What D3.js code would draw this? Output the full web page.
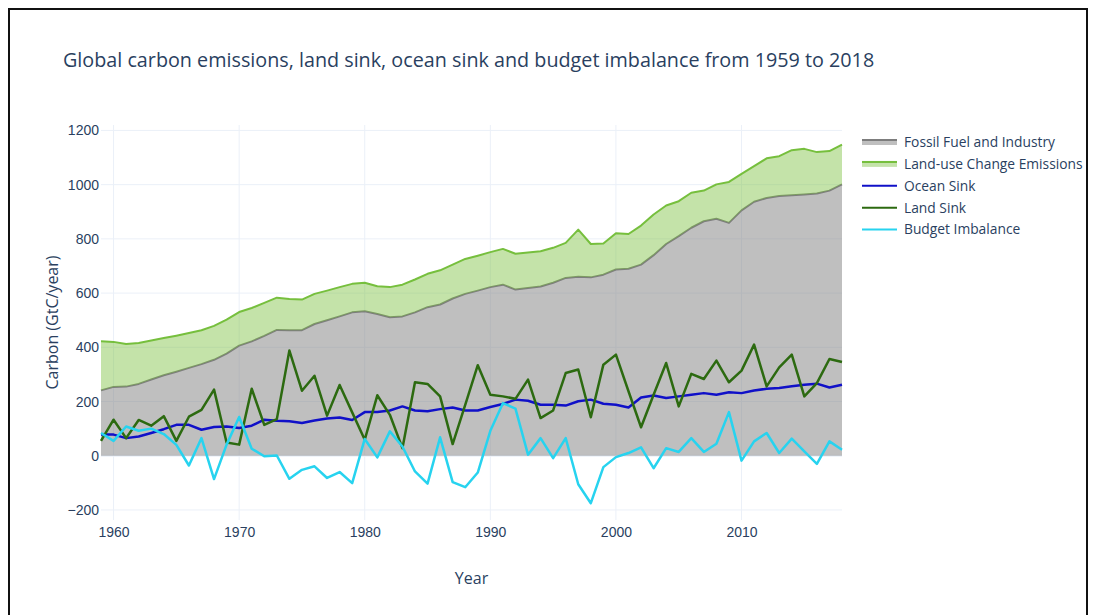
<!DOCTYPE html>
<html>
<head>
<meta charset="utf-8">
<script src="https://cdn.jsdelivr.net/npm/d3@7"></script>
<style>
  body { margin: 0; background: #fff; }
  svg { display: block; font-family: "Open Sans", verdana, arial, sans-serif; }
</style>
</head>
<body>
<svg id="chart" width="1096" height="615"></svg>
<script>

const years = d3.range(1959, 2019)

const fossil = [241, 254, 255, 265, 281, 297, 310, 324, 338, 354,
  377, 406, 422, 442, 464, 463, 463, 486, 500, 514,
  529, 533, 523, 511, 514, 529, 548, 558, 580, 597,
  609, 622, 631, 613, 619, 624, 638, 656, 660, 658,
  668, 687, 690, 705, 740, 781, 810, 841, 865, 874,
  859, 905, 937, 951, 958, 961, 964, 967, 978, 1001]

const landUse = [181, 166, 157, 151, 144, 137, 133, 129, 125, 125,
  125, 124, 123, 122, 119, 115, 113, 111, 109, 108,
  105, 105, 102, 111, 117, 121, 123, 126, 125, 129,
  129, 129, 132, 132, 131, 130, 129, 129, 174, 123,
  115, 134, 128, 144, 150, 142, 129, 129, 113, 127,
  151, 135, 131, 146, 147, 166, 168, 153, 146, 147]

const oceanSink = [78, 78, 65, 71, 84, 98, 114, 114, 96, 106,
  108, 102, 111, 133, 129, 127, 121, 130, 137, 141,
  132, 161, 161, 167, 182, 167, 164, 172, 178, 167,
  167, 180, 191, 207, 203, 188, 188, 185, 201, 207,
  192, 188, 178, 215, 222, 213, 219, 225, 231, 225,
  234, 231, 241, 247, 250, 256, 262, 266, 252, 262]

const landSink = [55, 133, 65, 132, 111, 146, 55, 144, 169, 244,
  49, 41, 247, 114, 135, 388, 240, 295, 148, 261,
  160, 59, 223, 151, 28, 271, 265, 219, 43, 188,
  334, 225, 219, 210, 281, 139, 167, 305, 318, 142,
  336, 373, 238, 105, 225, 342, 182, 302, 283, 351,
  271, 314, 410, 256, 326, 373, 219, 268, 357, 346]

const imbalance = [84, 55, 108, 92, 100, 80, 40, -36, 65, -86,
  41, 143, 26, -2, 1, -85, -52, -39, -82, -60,
  -101, 62, -6, 90, 34, -58, -103, 68, -97, -116,
  -62, 92, 194, 174, 4, 65, -9, 65, -105, -175,
  -42, -5, 10, 31, -46, 28, 14, 65, 14, 44,
  161, -18, 53, 84, 10, 63, 16, -30, 53, 22]

const xTicks = [1960, 1970, 1980, 1990, 2000, 2010]
const yTicks = [-200, 0, 200, 400, 600, 800, 1000, 1200]

const areaSeries = [
  { key: "fossil", name: "Fossil Fuel and Industry", line: "#7d7d7d", fill: "rgba(128,128,128,0.5)" },
  { key: "landUse", name: "Land-use Change Emissions", line: "#76bf3d", fill: "rgba(124,192,64,0.45)" }
]

const lineSeries = [
  { name: "Ocean Sink", values: oceanSink, color: "#1010c8", width: 2.5 },
  { name: "Land Sink", values: landSink, color: "#2c6a10", width: 2.5 },
  { name: "Budget Imbalance", values: imbalance, color: "#27d3ef", width: 2.5 }
]

const textColor = "#2a3f5f"
const gridColor = "#ebf0f8"

const svg = d3.select("#chart")

// frame round the picture
svg.append("rect")
.attr("x", 9)
.attr("y", 9)
.attr("width", 1078)
.attr("height", 620)
.attr("fill", "none")
.attr("stroke", "#111")
.attr("stroke-width", 2)

const plot = { left: 101, right: 842, top: 125, bottom: 520 }

const x = d3.scaleLinear()
.domain([1959, 2018])
.range([plot.left, plot.right])

const y = d3.scaleLinear()
.domain([-237, 1220])
.range([plot.bottom, plot.top])

// grid
svg.append("g")
.selectAll("line")
.data(xTicks)
.join("line")
.attr("x1", (d) => x(d))
.attr("x2", (d) => x(d))
.attr("y1", plot.top)
.attr("y2", plot.bottom)
.attr("stroke", gridColor)
.attr("stroke-width", 1)

svg.append("g")
.selectAll("line")
.data(yTicks)
.join("line")
.attr("x1", plot.left)
.attr("x2", plot.right)
.attr("y1", (d) => y(d))
.attr("y2", (d) => y(d))
.attr("stroke", gridColor)
.attr("stroke-width", (d) => d === 0 ? 2 : 1)

// stacked emissions
const table = years.map((yr, i) => ({ year: yr, fossil: fossil[i], landUse: landUse[i] }))

const stacked = d3.stack()
.keys(areaSeries.map((s) => s.key))(table)

const area = d3.area()
.x((d) => x(d.data.year))
.y0((d) => y(d[0]))
.y1((d) => y(d[1]))

const topLine = d3.line()
.x((d) => x(d.data.year))
.y((d) => y(d[1]))

const features = svg.append("g")

stacked.forEach((layer, i) => {

  features
  .append("path")
  .attr("d", area(layer))
  .attr("fill", areaSeries[i].fill)

  features
  .append("path")
  .attr("d", topLine(layer))
  .attr("fill", "none")
  .attr("stroke", areaSeries[i].line)
  .attr("stroke-width", 2)
  .attr("stroke-linejoin", "round")

})

for (const s of lineSeries) {

  let tline = d3.line()
  .x((d, i) => x(years[i]))
  .y((d) => y(d))

  features
  .append("path")
  .attr("d", tline(s.values))
  .attr("fill", "none")
  .attr("stroke", s.color)
  .attr("stroke-width", s.width)
  .attr("stroke-linejoin", "round")

}

// axes
const xAxis = svg.append("g")
.attr("transform", `translate(0,${plot.bottom})`)
.call(d3.axisBottom(x).tickValues(xTicks).tickFormat(d3.format("d")).tickSize(0).tickPadding(6))

const yAxis = svg.append("g")
.attr("transform", `translate(${plot.left},0)`)
.call(d3.axisLeft(y).tickValues(yTicks).tickFormat((d) => d < 0 ? "\u2212" + Math.abs(d) : d).tickSize(0).tickPadding(2))

for (const ax of [xAxis, yAxis]) {
  ax.select(".domain").remove()
  ax.selectAll("text")
  .attr("fill", textColor)
  .style("font-size", "14px")
}

xAxis.selectAll("text")
.attr("dy", "0.71em")
.attr("y", 7)

svg.append("text")
.attr("x", (plot.left + plot.right) / 2)
.attr("y", 584)
.attr("text-anchor", "middle")
.attr("fill", textColor)
.style("font-size", "16px")
.text("Year")

svg.append("text")
.attr("transform", `translate(58,${(plot.top + plot.bottom) / 2}) rotate(-90)`)
.attr("text-anchor", "middle")
.attr("fill", textColor)
.style("font-size", "16px")
.text("Carbon (GtC/year)")

const title = svg.append("text")
.attr("x", 63)
.attr("y", 67)
.attr("fill", textColor)
.style("font-size", "18px")
.text("Global carbon emissions, land sink, ocean sink and budget imbalance from 1959 to 2018")

// title in the reference runs from x 63 to about 874
const titleWidth = title.node().getComputedTextLength()
title.style("font-size", (18 * 811 / titleWidth).toFixed(2) + "px")

// legend
const legend = svg.append("g")
.attr("transform", "translate(862,142)")

const legendItems = areaSeries.map((s) => ({ name: s.name, color: s.line, fill: s.fill, area: true }))
.concat(lineSeries.map((s) => ({ name: s.name, color: s.color, area: false })))

legendItems.forEach((item, i) => {

  const row = legend.append("g")
  .attr("transform", `translate(0,${i * 21.9})`)

  if (item.area) {
    row.append("rect")
    .attr("x", 0)
    .attr("y", -3)
    .attr("width", 35)
    .attr("height", 6)
    .attr("fill", item.fill)
    row.append("line")
    .attr("x1", 0)
    .attr("x2", 35)
    .attr("y1", -2)
    .attr("y2", -2)
    .attr("stroke", item.color)
    .attr("stroke-width", 2)
  } else {
    row.append("line")
    .attr("x1", 0)
    .attr("x2", 35)
    .attr("y1", 0)
    .attr("y2", 0)
    .attr("stroke", item.color)
    .attr("stroke-width", 2)
  }

  row.append("text")
  .attr("x", 42)
  .attr("y", 0)
  .attr("dy", "0.35em")
  .attr("fill", textColor)
  .style("font-size", "13.8px")
  .text(item.name)

})

</script>
</body>
</html>
